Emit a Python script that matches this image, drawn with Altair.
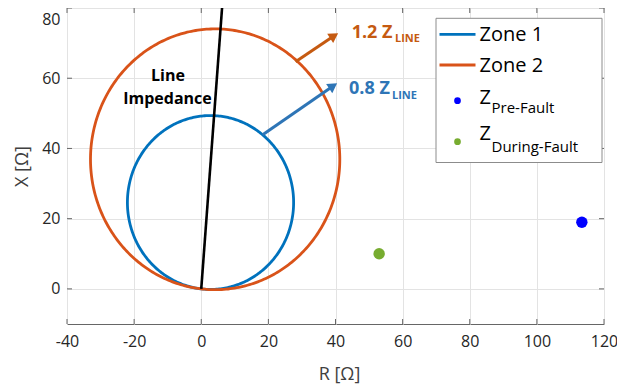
import altair as alt
import numpy as np
import pandas as pd

# ---------------- data ----------------
zone_names = ["Zone 1", "Zone 2"]
zone_reach = [0.8, 1.2]
zone_colors = ["#0072BD", "#D95319"]
z_line_mag = 61.9          # ohm
z_line_angle_deg = 83.6    # deg

line_R = [0.0, 6.2]
line_X = [0.0, 80.0]

point_names = ["Pre-Fault", "During-Fault"]
point_R = [113.4, 53.0]
point_X = [19.0, 10.0]
point_colors = ["#0000FF", "#77AC30"]

arrow_labels = ["1.2", "0.8"]
arrow_colors = ["#C55A11", "#2E75B6"]
arrow_tail_R = [28.1, 18.3]
arrow_tail_X = [64.7, 43.9]
arrow_head_R = [39.6, 39.3]
arrow_head_X = [72.1, 57.8]
arrow_angle = [57, 56]

x_ticks = [-40, -20, 0, 20, 40, 60, 80, 100, 120]
y_ticks = [0, 20, 40, 60, 80]

FONT = "Open Sans"
W, H = 537, 316

# ---------------- tables ----------------
theta = np.linspace(0, 2 * np.pi, 361)
a = np.deg2rad(z_line_angle_deg)
rows = []
for name, reach, col in zip(zone_names, zone_reach, zone_colors):
    r = reach * z_line_mag / 2
    cx, cy = r * np.cos(a), r * np.sin(a)
    for i, t in enumerate(theta):
        rows.append({"zone": name, "i": i, "R": cx + r * np.cos(t),
                     "X": cy + r * np.sin(t), "color": col})
circ = pd.DataFrame(rows)

line_df = pd.DataFrame({"R": line_R, "X": line_X})
pts = pd.DataFrame({"name": point_names, "R": point_R, "X": point_X, "color": point_colors})
arrows = pd.DataFrame({"label": arrow_labels, "color": arrow_colors,
                       "R": arrow_tail_R, "X": arrow_tail_X,
                       "R2": arrow_head_R, "X2": arrow_head_X, "angle": arrow_angle})
xt = pd.DataFrame({"R": x_ticks})
yt = pd.DataFrame({"X": y_ticks})

xscale = alt.Scale(domain=[-40, 120], nice=False, zero=False)
yscale = alt.Scale(domain=[-10, 80], nice=False, zero=False)

common = dict(grid=True, gridColor="#e3e3e3", domain=False, ticks=False,
              labelFont=FONT, labelFontSize=16, labelColor="#262626",
              titleFont=FONT, titleFontSize=18, titleFontWeight="normal",
              titleColor="#404040", labelExpr="'' + datum.value")
xaxis = alt.Axis(title="R [Ω]", values=x_ticks, labelPadding=9,
                 titleX=272, titleY=55, titleBaseline="alphabetic",
                 labelFlush=False, **common)
yaxis = alt.Axis(title="X [Ω]", values=y_ticks, labelPadding=7,
                 titleX=-45, titleY=H / 2, titleBaseline="middle", titleAngle=270,
                 labelFlush=True, labelFlushOffset=-3, **common)


def X(field="R"):
    return alt.X(f"{field}:Q", scale=xscale, axis=xaxis, title="R [Ω]")


def Y(field="X"):
    return alt.Y(f"{field}:Q", scale=yscale, axis=yaxis, title="X [Ω]")


circles = alt.Chart(circ).mark_line(strokeWidth=2.8, clip=True).encode(
    x=X("R"), y=Y("X"), detail="zone:N", order="i:Q",
    color=alt.Color("color:N", scale=None))

zline = alt.Chart(line_df).mark_line(strokeWidth=2.6, color="black", clip=True).encode(
    x=X(), y=Y())

dots = alt.Chart(pts).mark_point(filled=True, size=130, opacity=1).encode(
    x=X(), y=Y(), color=alt.Color("color:N", scale=None))

shafts = alt.Chart(arrows).mark_rule(strokeWidth=3).encode(
    x=X(), y=Y(), x2="R2:Q", y2="X2:Q", color=alt.Color("color:N", scale=None))
heads = alt.Chart(arrows).mark_point(shape="triangle-up", filled=True, size=120, opacity=1).encode(
    x=X("R2"), y=Y("X2"), angle=alt.Angle("angle:Q", scale=None),
    color=alt.Color("color:N", scale=None))

TC = "#666666"
tick_b = alt.Chart(xt).mark_rule(color=TC).encode(x=X(), y=alt.value(H), y2=alt.value(H - 5))
tick_t = alt.Chart(xt).mark_rule(color=TC).encode(x=X(), y=alt.value(0), y2=alt.value(5))
tick_l = alt.Chart(yt).mark_rule(color=TC).encode(y=Y(), x=alt.value(0), x2=alt.value(5))
tick_r = alt.Chart(yt).mark_rule(color=TC).encode(y=Y(), x=alt.value(W), x2=alt.value(W - 5))


def txt(s, x, y, size, color="black", weight="normal", align="left"):
    return alt.Chart(pd.DataFrame({"t": [s]})).mark_text(
        font=FONT, fontSize=size, fontWeight=weight, color=color, align=align,
        baseline="alphabetic").encode(text="t:N", x=alt.value(x), y=alt.value(y))


annots = [
    txt("1.2 Z", 284.7, 29.7, 18, arrow_colors[0], "bold"),
    txt("LINE", 328, 34.3, 11, arrow_colors[0], "bold"),
    txt("0.8 Z", 282, 86.3, 18, arrow_colors[1], "bold"),
    txt("LINE", 325, 91, 11, arrow_colors[1], "bold"),
    txt("Line", 101, 73, 16, "black", "bold", "center"),
    txt("Impedance", 100.5, 96, 16, "black", "bold", "center"),
]

# legend (manual, so that the subscripts can be drawn)
LB = W - 168  # legend box left edge
leg_box = alt.Chart(pd.DataFrame({"a": [0]})).mark_rect(
    fill="white", stroke="#8c8c8c", strokeWidth=1).encode(
    x=alt.value(LB), x2=alt.value(LB + 166), y=alt.value(10.3), y2=alt.value(154.5))
leg_lines = [
    alt.Chart(pd.DataFrame({"a": [0]})).mark_rule(color=zone_colors[k], strokeWidth=2.8).encode(
        x=alt.value(LB + 3.5), x2=alt.value(LB + 39.5), y=alt.value(yy))
    for k, yy in enumerate([26.3, 57])
]
leg_dots = [
    alt.Chart(pd.DataFrame({"a": [0]})).mark_point(filled=True, size=45, opacity=1,
                                                   color=point_colors[k]).encode(
        x=alt.value(LB + 21.5), y=alt.value(yy))
    for k, yy in enumerate([92.7, 133.7])
]
leg_text = [
    txt(zone_names[0], LB + 43.5, 32.7, 20),
    txt(zone_names[1], LB + 43.5, 63.7, 20),
    txt("Z", LB + 43.5, 96, 20),
    txt(point_names[0], LB + 55.5, 105.3, 15),
    txt("Z", LB + 43.5, 132, 20),
    txt(point_names[1], LB + 55.5, 143.7, 15),
]

chart = alt.layer(
    circles, zline, dots, shafts, heads, tick_b, tick_t, tick_l, tick_r,
    *annots, leg_box, *leg_lines, *leg_dots, *leg_text
).properties(
    width=W, height=H,
    autosize=alt.AutoSizeParams(type="none"),
    padding={"left": 59, "top": 0, "right": 13, "bottom": 63},
).configure_view(stroke="#666666", strokeWidth=1)

chart.save("out.html", embed_options={"renderer": "svg", "actions": False})
